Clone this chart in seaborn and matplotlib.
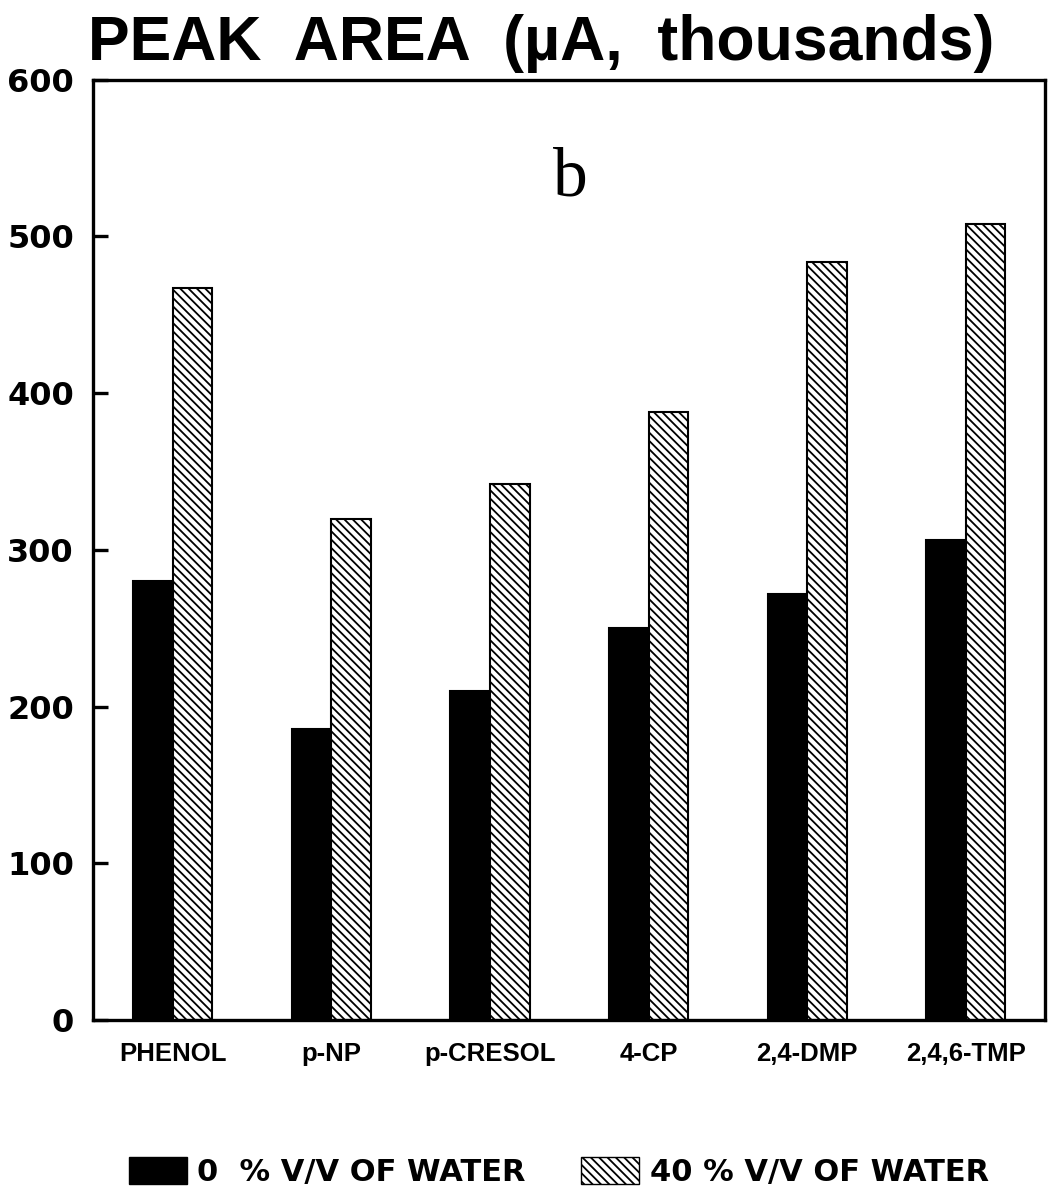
import pandas as pd
import seaborn as sns
import matplotlib.pyplot as plt
from matplotlib.patches import Patch

compounds = ['PHENOL', 'p-NP', 'p-CRESOL', '4-CP', '2,4-DMP', '2,4,6-TMP']
water_0 = [280, 186, 210, 250, 272, 306]
water_40 = [467, 320, 342, 388, 484, 508]
legend_labels = ['0  % V/V OF WATER', '40 % V/V OF WATER']

df = pd.DataFrame({
    'compound': compounds * 2,
    'area': water_0 + water_40,
    'water': [legend_labels[0]] * len(compounds) + [legend_labels[1]] * len(compounds),
})

sns.set_style('white')
plt.rcParams['font.family'] = ['DejaVu Sans']
plt.rcParams['hatch.linewidth'] = 1.3
for k in ['text.color', 'xtick.color', 'ytick.color', 'axes.labelcolor']:
    plt.rcParams[k] = 'black'

fig = plt.figure(figsize=(10.6, 11.91), dpi=100)
ax = fig.add_axes([0.088, 0.1436, 0.898, 0.7894])

sns.barplot(data=df, x='compound', y='area', hue='water',
            palette=['black', 'white'], edgecolor='black', linewidth=1.5,
            width=0.5, ax=ax, legend=False)

for bar in ax.containers[1]:
    bar.set_hatch('\\\\\\\\')

ax.set_ylim(0, 600)
ax.set_xlim(-0.5, 5.5)
ax.set_yticks(range(0, 601, 100))
ax.set_xlabel('')
ax.set_ylabel('')
for s in ax.spines.values():
    s.set_linewidth(2.4)
    s.set_color('black')
ax.tick_params(axis='y', left=True, direction='in', length=11, width=2.4,
               labelsize=23, pad=14)
ax.tick_params(axis='x', bottom=False, length=0, labelsize=18.5, pad=16)
for t in ax.get_yticklabels():
    t.set_fontweight('bold')
for t in ax.get_xticklabels():
    t.set_fontweight('bold')
    t.set_family(['Liberation Sans', 'DejaVu Sans'])

fig.text(0.083, 0.9496, 'PEAK  AREA  (µA,  thousands)', fontsize=45, fontweight='bold',
         family=['Liberation Sans', 'DejaVu Sans'], ha='left', va='baseline')

ax.text(2.51, 537, 'b', fontsize=50, family=['Liberation Serif', 'DejaVu Serif'],
        ha='center', va='center')

handles = [Patch(facecolor='black', edgecolor='black'),
           Patch(facecolor='white', edgecolor='black', hatch='\\\\\\\\')]
fig.legend(handles, legend_labels, loc='center', bbox_to_anchor=(0.527, 0.016),
           ncol=2, frameon=False, handlelength=1.9, handleheight=1.0,
           columnspacing=1.8, handletextpad=0.35,
           prop={'weight': 'bold', 'size': 22})

fig.savefig('out.png', dpi=100)
